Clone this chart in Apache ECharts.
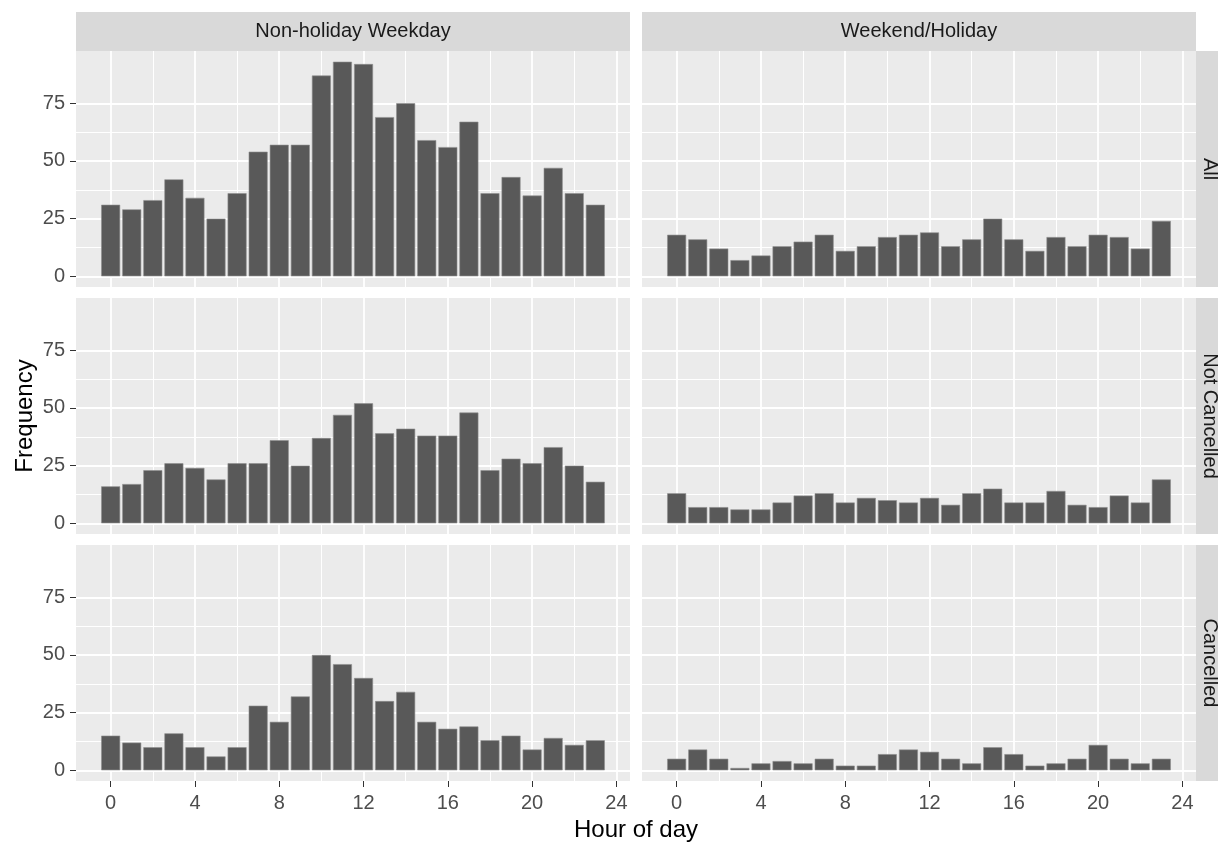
<!DOCTYPE html>
<html>
<head>
<meta charset="utf-8">
<style>
  html, body { margin: 0; padding: 0; background: #ffffff; }
  #chart { width: 1218px; height: 844px; }
</style>
<script src="https://cdn.jsdelivr.net/npm/echarts@6/dist/echarts.min.js"></script>
</head>
<body>
<div id="chart"></div>
<script>
// data (counts per hour)
const hours = [0, 1, 2, 3, 4, 5, 6, 7, 8, 9, 10, 11, 12, 13, 14, 15, 16, 17, 18, 19, 20, 21, 22, 23];
const dayTypes = ['Non-holiday Weekday', 'Weekend/Holiday'];
const statuses = ['All', 'Not Cancelled', 'Cancelled'];

const weekdayAll          = [31, 29, 33, 42, 34, 25, 36, 54, 57, 57, 87, 93, 92, 69, 75, 59, 56, 67, 36, 43, 35, 47, 36, 31];
const weekdayNotCancelled = [16, 17, 23, 26, 24, 19, 26, 26, 36, 25, 37, 47, 52, 39, 41, 38, 38, 48, 23, 28, 26, 33, 25, 18];
const weekdayCancelled    = [15, 12, 10, 16, 10, 6, 10, 28, 21, 32, 50, 46, 40, 30, 34, 21, 18, 19, 13, 15, 9, 14, 11, 13];
const holidayAll          = [18, 16, 12, 7, 9, 13, 15, 18, 11, 13, 17, 18, 19, 13, 16, 25, 16, 11, 17, 13, 18, 17, 12, 24];
const holidayNotCancelled = [13, 7, 7, 6, 6, 9, 12, 13, 9, 11, 10, 9, 11, 8, 13, 15, 9, 9, 14, 8, 7, 12, 9, 19];
const holidayCancelled    = [5, 9, 5, 1, 3, 4, 3, 5, 2, 2, 7, 9, 8, 5, 3, 10, 7, 2, 3, 5, 11, 5, 3, 5];

const xTicks = [0, 4, 8, 12, 16, 20, 24];
const yTicks = [0, 25, 50, 75];

const panelData = [
  [weekdayAll, holidayAll],
  [weekdayNotCancelled, holidayNotCancelled],
  [weekdayCancelled, holidayCancelled]
];

// layout
const colLeft = [76, 642];
const rowTop = [51, 298, 545];
const panelW = 554;
const panelH = 236;
const stripTop = 12;
const stripSize = 39;
const font = "'Liberation Sans', Arial, sans-serif";

// ggplot-like scale expansion
const barFrac = 0.9;
const xLo = hours[0] - barFrac / 2, xHi = hours[hours.length - 1] + barFrac / 2;
const xMin = xLo - (xHi - xLo) * 0.05, xMax = xHi + (xHi - xLo) * 0.05;
const dataMax = Math.max(...panelData.flat(2));
const yMin = -dataMax * 0.05, yMax = dataMax * 1.05;

const midpoints = ticks => ticks.slice(1).map((t, i) => (t + ticks[i]) / 2);
const xMinor = midpoints(xTicks);
const yMinor = midpoints(yTicks);

const barWidth = barFrac * panelW / (xMax - xMin);

const grids = [], xAxes = [], yAxes = [], series = [];

statuses.forEach((st, r) => {
  dayTypes.forEach((dt, c) => {
    const gi = grids.length;
    grids.push({
      left: colLeft[c], top: rowTop[r], width: panelW, height: panelH,
      show: true, backgroundColor: '#EBEBEB', borderWidth: 0
    });
    // major axis
    xAxes.push({
      type: 'value', gridIndex: gi, min: xMin, max: xMax, position: 'bottom',
      axisLine: { show: false, onZero: false },
      axisTick: { show: r === 2, customValues: xTicks, length: 6, lineStyle: { color: '#333333', width: 1 } },
      axisLabel: { show: r === 2, customValues: xTicks, margin: 12, color: '#4D4D4D', fontSize: 20, fontFamily: font },
      splitLine: { show: true, lineStyle: { color: '#ffffff', width: 1.8 } }
    });
    // minor grid lines
    xAxes.push({
      type: 'value', gridIndex: gi, min: xMin, max: xMax, position: 'top',
      axisLine: { show: false, onZero: false },
      axisTick: { show: false, customValues: xMinor },
      axisLabel: { show: false, customValues: xMinor },
      splitLine: { show: true, lineStyle: { color: '#ffffff', width: 1 } }
    });
    yAxes.push({
      type: 'value', gridIndex: gi, min: yMin, max: yMax, position: 'left',
      axisLine: { show: false, onZero: false },
      axisTick: { show: c === 0, customValues: yTicks, length: 6, lineStyle: { color: '#333333', width: 1 } },
      axisLabel: { show: c === 0, customValues: yTicks, margin: 11, color: '#4D4D4D', fontSize: 20, fontFamily: font },
      splitLine: { show: true, lineStyle: { color: '#ffffff', width: 1.8 } }
    });
    yAxes.push({
      type: 'value', gridIndex: gi, min: yMin, max: yMax, position: 'right',
      axisLine: { show: false, onZero: false },
      axisTick: { show: false, customValues: yMinor },
      axisLabel: { show: false, customValues: yMinor },
      splitLine: { show: true, lineStyle: { color: '#ffffff', width: 1 } }
    });
    series.push({
      type: 'bar',
      name: dt + ' / ' + st,
      xAxisIndex: gi * 2,
      yAxisIndex: gi * 2,
      barWidth: barWidth,
      data: hours.map((h, k) => [h, panelData[r][c][k]]),
      itemStyle: { color: '#595959', borderColor: '#8f8f8f', borderWidth: 0.6 },
      silent: true
    });
  });
});

// facet strips and axis titles
const graphics = [];
dayTypes.forEach((dt, c) => {
  graphics.push({
    type: 'rect', silent: true,
    shape: { x: colLeft[c], y: stripTop, width: panelW, height: rowTop[0] - stripTop },
    style: { fill: '#D9D9D9' }
  });
  graphics.push({
    type: 'text', silent: true,
    x: colLeft[c] + panelW / 2, y: (stripTop + rowTop[0]) / 2,
    style: { text: dt, font: '20px ' + font, fill: '#1A1A1A', align: 'center', verticalAlign: 'middle' }
  });
});
statuses.forEach((st, r) => {
  const sx = colLeft[1] + panelW;
  graphics.push({
    type: 'rect', silent: true,
    shape: { x: sx, y: rowTop[r], width: stripSize, height: panelH },
    style: { fill: '#D9D9D9' }
  });
  graphics.push({
    type: 'text', silent: true,
    x: sx + 14, y: rowTop[r] + panelH / 2, rotation: -Math.PI / 2,
    style: { text: st, font: '20px ' + font, fill: '#1A1A1A', align: 'center', verticalAlign: 'middle' }
  });
});
graphics.push({
  type: 'text', silent: true,
  x: (colLeft[0] + colLeft[1] + panelW) / 2, y: 830,
  style: { text: 'Hour of day', font: '24px ' + font, fill: '#000000', align: 'center', verticalAlign: 'middle' }
});
graphics.push({
  type: 'text', silent: true,
  x: 25, y: rowTop[0] + (rowTop[2] + panelH - rowTop[0]) / 2, rotation: Math.PI / 2,
  style: { text: 'Frequency', font: '24px ' + font, fill: '#000000', align: 'center', verticalAlign: 'middle' }
});

const chart = echarts.init(document.getElementById('chart'));
chart.setOption({
  backgroundColor: '#ffffff',
  animation: false,
  grid: grids,
  xAxis: xAxes,
  yAxis: yAxes,
  series: series,
  graphic: graphics
});
</script>
</body>
</html>
